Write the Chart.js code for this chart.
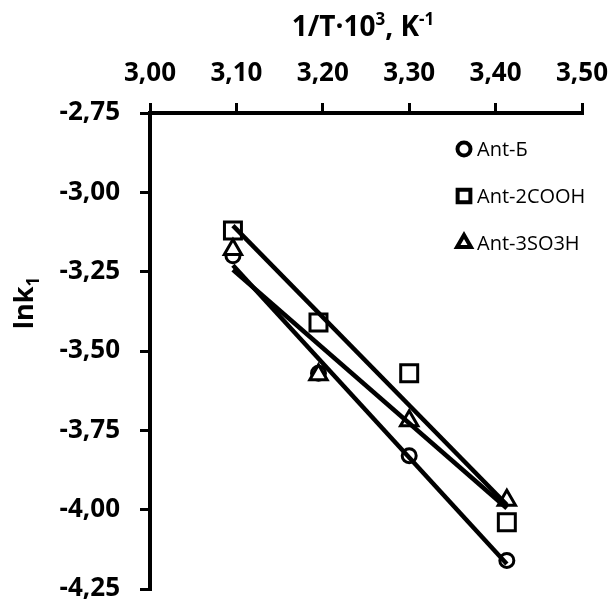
<!DOCTYPE html>
<html lang="ru">
<head>
<meta charset="UTF-8">
<title>lnk1 — 1/T</title>
<script src="https://cdn.jsdelivr.net/npm/chart.js"></script>
<style>
  html, body { margin: 0; padding: 0; background: #fff; }
  .chart-box { width: 613px; height: 604px; }
</style>
</head>
<body>
<div class="chart-box"><canvas id="arrhenius"></canvas></div>
<script>
// 1/T·10^3 for the four temperatures (K^-1)
var invT = [3.096, 3.195, 3.300, 3.413];

// ln k1 per sample
var seriesNames = ['Ant-Б', 'Ant-2COOH', 'Ant-3SO3H'];
var lnkAntB = [-3.20, -3.57, -3.83, -4.16];
var lnkAnt2COOH = [-3.12, -3.41, -3.57, -4.04];
var lnkAnt3SO3H = [-3.18, -3.575, -3.72, -3.97];

var xTicks = [3.00, 3.10, 3.20, 3.30, 3.40, 3.50];
var yTicks = [-2.75, -3.00, -3.25, -3.50, -3.75, -4.00, -4.25];

var markerStyles = ['circle', 'rect', 'triangle'];
var markerRadius = [7, 12, 10];

// least squares line through the points, from first x to last x
function linearFit(xs, ys) {
    var n = xs.length, mx = 0, my = 0, sxy = 0, sxx = 0;
    for (var i = 0; i < n; i++) { mx += xs[i]; my += ys[i]; }
    mx /= n; my /= n;
    for (var j = 0; j < n; j++) {
        sxy += (xs[j] - mx) * (ys[j] - my);
        sxx += (xs[j] - mx) * (xs[j] - mx);
    }
    var k = sxy / sxx, b = my - k * mx;
    return [{ x: xs[0], y: b + k * xs[0] }, { x: xs[n - 1], y: b + k * xs[n - 1] }];
}

function toPoints(xs, ys) {
    return xs.map(function(x, i) { return { x: x, y: ys[i] }; });
}

function comma(v) {
    return v.toFixed(2).replace('.', ',');
}

var allSeries = [lnkAntB, lnkAnt2COOH, lnkAnt3SO3H];
var datasets = [];

// trend lines go on top of the markers
allSeries.forEach(function(ys, i) {
    datasets.push({
        label: seriesNames[i] + ' fit',
        data: linearFit(invT, ys),
        showLine: true,
        borderColor: '#000',
        borderWidth: 4.5,
        pointRadius: 0,
        order: 0
    });
});

allSeries.forEach(function(ys, i) {
    datasets.push({
        label: seriesNames[i],
        data: toPoints(invT, ys),
        pointStyle: markerStyles[i],
        pointRadius: markerRadius[i],
        pointBorderWidth: 3,
        pointBorderColor: '#000',
        pointBackgroundColor: '#fff',
        showLine: false,
        order: 3 - i
    });
});

var tickFont = { family: 'Open Sans', size: 26, weight: 'bold' };

function drawRuns(ctx, runs, cx, baseY) {
    var total = 0;
    runs.forEach(function(r) {
        ctx.font = 'bold ' + r.size + 'px "Open Sans"';
        r.w = ctx.measureText(r.t).width;
        total += r.w;
    });
    var x = cx - total / 2;
    ctx.textAlign = 'left';
    runs.forEach(function(r) {
        ctx.font = 'bold ' + r.size + 'px "Open Sans"';
        ctx.fillText(r.t, x, baseY + r.dy);
        x += r.w;
    });
}

// axis titles and the legend, drawn by hand
var decorations = {
    id: 'decorations',
    afterDraw: function(chart) {
        var ctx = chart.ctx;
        ctx.save();
        ctx.fillStyle = '#000';
        ctx.textBaseline = 'alphabetic';

        // x title: 1/T·10³, K⁻¹
        drawRuns(ctx, [
            { t: '1/T·10', size: 28, dy: 0 },
            { t: '3', size: 17, dy: -11 },
            { t: ', K', size: 28, dy: 0 },
            { t: '-1', size: 17, dy: -11 }
        ], 363, 36);

        // y title: lnk₁, rotated
        ctx.save();
        ctx.translate(33, 303);
        ctx.rotate(-Math.PI / 2);
        drawRuns(ctx, [
            { t: 'lnk', size: 27, dy: 0 },
            { t: '1', size: 17, dy: 6 }
        ], 0, 0);
        ctx.restore();

        // legend
        var legendY = [149, 196, 243];
        var legendRadius = [6.5, 9, 8];
        for (var i = 0; i < seriesNames.length; i++) {
            ctx.strokeStyle = '#000';
            ctx.fillStyle = '#fff';
            ctx.lineWidth = 4;
            Chart.helpers.drawPoint(ctx, {
                pointStyle: markerStyles[i],
                radius: legendRadius[i],
                rotation: 0,
                borderWidth: 4
            }, 464, legendY[i]);
            ctx.fillStyle = '#000';
            ctx.font = '20px "Open Sans"';
            ctx.textAlign = 'left';
            ctx.textBaseline = 'middle';
            ctx.fillText(seriesNames[i], 477, legendY[i] + 1);
        }
        ctx.restore();
    }
};

new Chart(document.getElementById('arrhenius'), {
    type: 'scatter',
    data: { datasets: datasets },
    options: {
        responsive: true,
        maintainAspectRatio: false,
        animation: false,
        layout: { padding: { left: 0, top: 0, right: 31, bottom: 3 } },
        plugins: {
            legend: { display: false },
            tooltip: { enabled: false }
        },
        scales: {
            x: {
                type: 'linear',
                position: 'top',
                min: 3.0,
                max: 3.5,
                afterBuildTicks: function(scale) {
                    scale.ticks = xTicks.map(function(v) { return { value: v }; });
                },
                afterFit: function(scale) {
                    scale.height = 113;
                    scale.paddingLeft = 0;
                    scale.paddingRight = 0;
                },
                ticks: {
                    color: '#000',
                    font: tickFont,
                    padding: 14,
                    maxRotation: 0,
                    callback: function(v) { return comma(v); }
                },
                grid: {
                    drawOnChartArea: false,
                    drawTicks: true,
                    tickLength: 10,
                    color: '#000',
                    lineWidth: 3
                },
                border: { display: true, color: '#000', width: 4 }
            },
            y: {
                type: 'linear',
                min: -4.25,
                max: -2.75,
                afterBuildTicks: function(scale) {
                    scale.ticks = yTicks.map(function(v) { return { value: v }; });
                },
                afterFit: function(scale) {
                    scale.width = 150;
                    scale.paddingTop = 0;
                    scale.paddingBottom = 0;
                },
                ticks: {
                    color: '#000',
                    font: tickFont,
                    padding: 20,
                    callback: function(v) { return comma(v); }
                },
                grid: {
                    drawOnChartArea: false,
                    drawTicks: true,
                    tickLength: 10,
                    color: '#000',
                    lineWidth: 3
                },
                border: { display: true, color: '#000', width: 4 }
            }
        }
    },
    plugins: [decorations]
});
</script>
</body>
</html>
